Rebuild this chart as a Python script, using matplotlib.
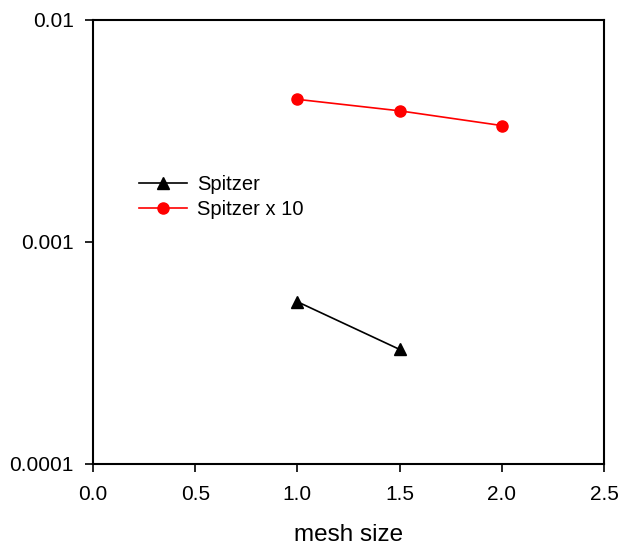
import matplotlib
matplotlib.use('Agg')
import matplotlib.pyplot as plt
from matplotlib.ticker import FixedLocator, FixedFormatter, NullLocator

# values
mesh_spitzer = [1.0, 1.5]
spitzer = [5.36e-4, 3.27e-4]
mesh_spitzer10 = [1.0, 1.5, 2.0]
spitzer10 = [4.37e-3, 3.88e-3, 3.33e-3]

y_ticks = [0.0001, 0.001, 0.01]
y_tick_labels = ['0.0001', '0.001', '0.01']
x_ticks = [0.0, 0.5, 1.0, 1.5, 2.0, 2.5]

plt.rcParams['font.family'] = ['Liberation Sans', 'DejaVu Sans']
plt.rcParams['font.size'] = 15

fig = plt.figure(figsize=(6.21, 5.45), dpi=100)
ax = fig.add_axes([93 / 621, 1 - 463.7 / 545, 511 / 621, 444.2 / 545])

ax.plot(mesh_spitzer, spitzer, color='black', lw=1.2, marker='^', markersize=8, label='Spitzer')
ax.plot(mesh_spitzer10, spitzer10, color='red', lw=1.2, marker='o', markersize=8, label='Spitzer x 10')

ax.set_yscale('log')
ax.set_ylim(0.0001, 0.01)
ax.set_xlim(0, 2.5)
ax.yaxis.set_major_locator(FixedLocator(y_ticks))
ax.yaxis.set_major_formatter(FixedFormatter(y_tick_labels))
ax.yaxis.set_minor_locator(NullLocator())
ax.set_xticks(x_ticks)
ax.set_xticklabels(['%.1f' % x for x in x_ticks])

for s in ax.spines.values():
    s.set_linewidth(1.5)
ax.tick_params(direction='out', length=6, width=1.2, pad=9, top=False, right=False)
ax.tick_params(axis='y', pad=8)
ax.set_xlabel('mesh size', fontsize=17.5, labelpad=15)

ax.legend(loc='center left', bbox_to_anchor=(0.07, 0.60), frameon=False, fontsize=14.5,
          handlelength=2.4, handletextpad=0.5, labelspacing=0.32, borderpad=0)

fig.savefig('out.png', dpi=100)
